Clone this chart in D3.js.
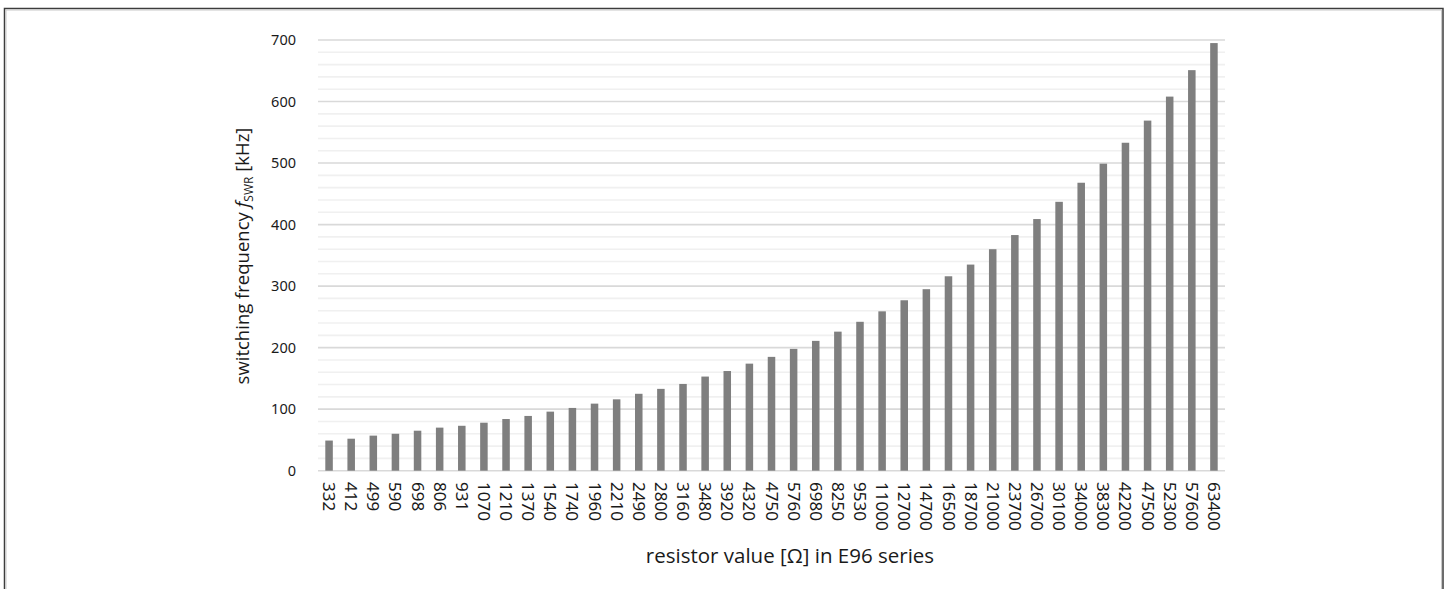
<!DOCTYPE html>
<html>
<head>
<meta charset="utf-8">
<script src="https://cdn.jsdelivr.net/npm/d3@7"></script>
<style>
  html, body { margin: 0; padding: 0; background: #fff; }
  svg { display: block; }
</style>
</head>
<body>
<svg id="chart" width="1448" height="589"></svg>
<script>
// E96 resistor values (ohms) used for the frequency-set pin
const resistors = [332, 412, 499, 590, 698, 806, 931, 1070, 1210, 1370, 1540, 1740, 1960, 2210, 2490,
  2800, 3160, 3480, 3920, 4320, 4750, 5760, 6980, 8250, 9530, 11000, 12700, 14700, 16500, 18700,
  21000, 23700, 26700, 30100, 34000, 38300, 42200, 47500, 52300, 57600, 63400];

// Resulting switching frequency in kHz
const frequencyKHz = [49, 52, 57, 60, 65, 70, 73, 78, 84, 89, 96, 102, 109, 116, 125,
  133, 141, 153, 162, 174, 185, 198, 211, 226, 242, 259, 277, 295, 316, 335,
  360, 383, 409, 437, 468, 499, 533, 569, 608, 651, 695];

const yMajorTicks = [0, 100, 200, 300, 400, 500, 600, 700];
const yMinorTicks = d3.range(0, 701, 20);

const svg = d3.select("#chart");

// outer frame
svg.append("rect")
  .attr("x", 4.5).attr("y", 8.5)
  .attr("width", 1438.5).attr("height", 600)
  .attr("fill", "none").attr("stroke", "#3c3c3c").attr("stroke-width", 1.5);
svg.append("rect")
  .attr("x", 6).attr("y", 10)
  .attr("width", 1435.5).attr("height", 600)
  .attr("fill", "none").attr("stroke", "#c8c8c8").attr("stroke-width", 1);

const plot = { left: 318, right: 1225, top: 40, bottom: 470.7 };

const x = d3.scaleBand()
  .domain(resistors.map(String))
  .range([plot.left, plot.right])
  .paddingInner(0.66)
  .paddingOuter(0.33);

const y = d3.scaleLinear()
  .domain([0, 700])
  .range([plot.bottom, plot.top]);

// minor gridlines
svg.append("g")
  .selectAll("line")
  .data(yMinorTicks.filter(v => v % 100 !== 0))
  .join("line")
  .attr("x1", plot.left).attr("x2", plot.right)
  .attr("y1", d => y(d)).attr("y2", d => y(d))
  .attr("stroke", "#f0f0f0").attr("stroke-width", 1.6);

// major gridlines
svg.append("g")
  .selectAll("line")
  .data(yMajorTicks)
  .join("line")
  .attr("x1", plot.left).attr("x2", plot.right)
  .attr("y1", d => y(d)).attr("y2", d => y(d))
  .attr("stroke", "#d9d9d9").attr("stroke-width", 1.6);

// bars
svg.append("g")
  .selectAll("rect")
  .data(resistors.map((r, i) => ({ r: String(r), f: frequencyKHz[i] })))
  .join("rect")
  .attr("x", d => x(d.r))
  .attr("width", x.bandwidth())
  .attr("y", d => y(d.f))
  .attr("height", d => y(0) - y(d.f))
  .attr("fill", "#7f7f7f");

// y axis tick labels
const yAxis = d3.axisLeft(y).tickValues(yMajorTicks).tickSize(0).tickPadding(0);
const yg = svg.append("g")
  .attr("transform", `translate(${296},0)`)
  .call(yAxis);
yg.select(".domain").remove();
yg.selectAll("text")
  .attr("font-family", "'Noto Sans', 'Open Sans', sans-serif")
  .attr("font-size", 14.5)
  .attr("fill", "#1a1a1a");

// x axis tick labels, rotated to read downward
const xAxis = d3.axisBottom(x).tickSize(0).tickPadding(0);
const xg = svg.append("g")
  .attr("transform", `translate(0,${482})`)
  .call(xAxis);
xg.select(".domain").remove();
xg.selectAll("text")
  .attr("font-family", "'Noto Sans', 'Open Sans', sans-serif")
  .attr("font-size", 17)
  .attr("fill", "#1a1a1a")
  .attr("text-anchor", "start")
  .attr("y", 0)
  .attr("dy", "0.35em")
  .attr("transform", "rotate(90)");

// axis titles
const titleFont = "'Open Sans', 'Noto Sans', sans-serif";

const yTitle = svg.append("text")
  .attr("transform", `translate(${249},${256}) rotate(-90)`)
  .attr("text-anchor", "middle")
  .attr("font-family", titleFont)
  .attr("font-size", 18.5)
  .attr("fill", "#1a1a1a");
yTitle.append("tspan").text("switching frequency ");
yTitle.append("tspan").attr("font-style", "italic").text("f");
yTitle.append("tspan").attr("font-size", 12).attr("dy", 4).text("SWR");
yTitle.append("tspan").attr("dy", -4).text(" [kHz]");

svg.append("text")
  .attr("x", 790).attr("y", 563)
  .attr("text-anchor", "middle")
  .attr("font-family", titleFont)
  .attr("font-size", 20.5)
  .attr("fill", "#1a1a1a")
  .text("resistor value [Ω] in E96 series");
</script>
</body>
</html>
